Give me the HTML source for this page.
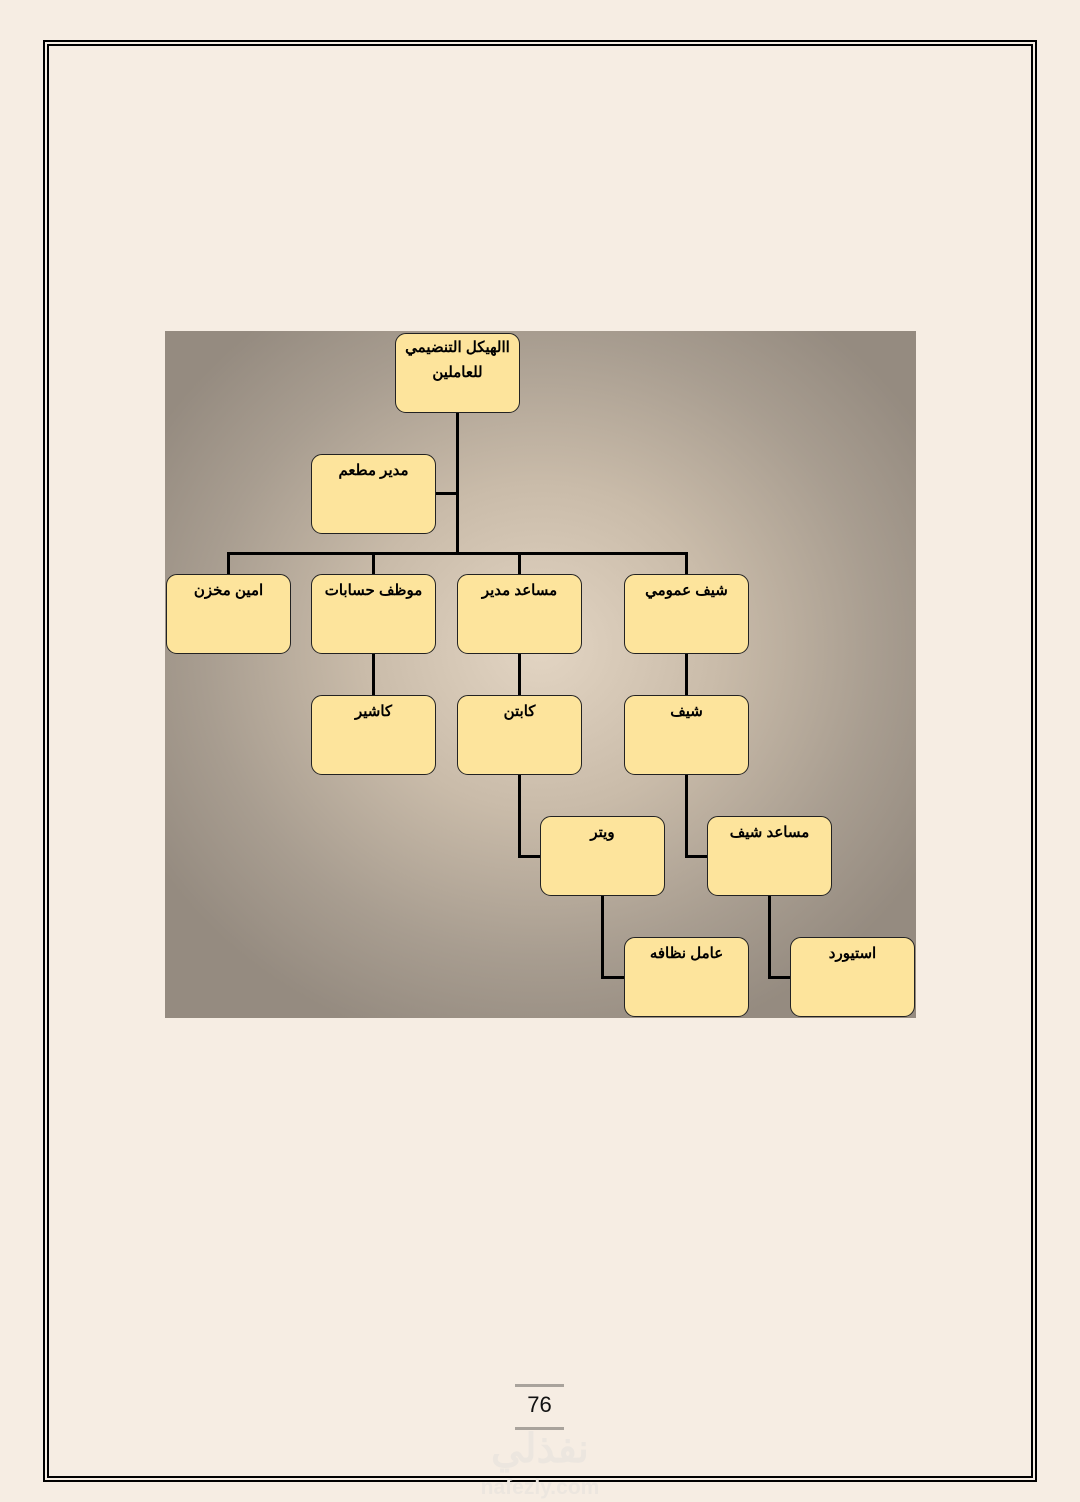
<!DOCTYPE html>
<html><head><meta charset="utf-8"><style>
body{margin:0;width:1080px;height:1502px;background:#f6ede3;position:relative;overflow:hidden;font-family:"Liberation Sans","Noto Sans CJK SC",sans-serif}
.b1{position:absolute;left:43px;top:40px;width:994px;height:1442px;border:2px solid #000;box-sizing:border-box}
.b2{position:absolute;left:47px;top:44px;width:986px;height:1434px;border:2px solid #000;box-sizing:border-box}
.dg{position:absolute;left:165px;top:331px;width:751px;height:687px;background:radial-gradient(ellipse 60% 60% at 50% 46%,#e3d5c3 0%,#c9bba9 40%,#a89d90 75%,#958b80 100%)}
.n{position:absolute;width:125px;height:80px;box-sizing:border-box;background:#fde49c;border:1.5px solid #222;border-radius:11px;text-align:center;font-weight:bold;font-size:15px;padding-top:3px;direction:rtl;line-height:25px}
.l{position:absolute;background:#000}
.pg{position:absolute;left:515px;width:49px;height:3px;background:#a9a39c}
</style></head><body>
<div class="b1"></div><div class="b2"></div>
<div class="dg"></div>
<div class="l" style="left:456px;top:412px;width:3px;height:143px"></div>
<div class="l" style="left:436px;top:492px;width:21px;height:3px"></div>
<div class="l" style="left:227px;top:552px;width:461px;height:3px"></div>
<div class="l" style="left:227px;top:552px;width:3px;height:22px"></div>
<div class="l" style="left:372px;top:552px;width:3px;height:22px"></div>
<div class="l" style="left:518px;top:552px;width:3px;height:22px"></div>
<div class="l" style="left:685px;top:552px;width:3px;height:22px"></div>
<div class="l" style="left:372px;top:654px;width:3px;height:41px"></div>
<div class="l" style="left:518px;top:654px;width:3px;height:41px"></div>
<div class="l" style="left:685px;top:654px;width:3px;height:41px"></div>
<div class="l" style="left:518px;top:775px;width:3px;height:83px"></div>
<div class="l" style="left:518px;top:855px;width:23px;height:3px"></div>
<div class="l" style="left:685px;top:775px;width:3px;height:83px"></div>
<div class="l" style="left:685px;top:855px;width:23px;height:3px"></div>
<div class="l" style="left:601px;top:896px;width:3px;height:83px"></div>
<div class="l" style="left:601px;top:976px;width:23px;height:3px"></div>
<div class="l" style="left:768px;top:896px;width:3px;height:83px"></div>
<div class="l" style="left:768px;top:976px;width:23px;height:3px"></div>
<div class="n" style="left:395px;top:333px;padding-top:1px">االهيكل التنضيمي<br>للعاملين</div>
<div class="n" style="left:311px;top:454px">مدير مطعم</div>
<div class="n" style="left:166px;top:574px">امين مخزن</div>
<div class="n" style="left:311px;top:574px">موظف حسابات</div>
<div class="n" style="left:457px;top:574px">مساعد مدير</div>
<div class="n" style="left:624px;top:574px">شيف عمومي</div>
<div class="n" style="left:311px;top:695px">كاشير</div>
<div class="n" style="left:457px;top:695px">كابتن</div>
<div class="n" style="left:624px;top:695px">شيف</div>
<div class="n" style="left:540px;top:816px">ويتر</div>
<div class="n" style="left:707px;top:816px">مساعد شيف</div>
<div class="n" style="left:624px;top:937px">عامل نظافه</div>
<div class="n" style="left:790px;top:937px">استيورد</div>
<div class="pg" style="top:1384px"></div>
<div style="position:absolute;left:515px;top:1392px;width:49px;text-align:center;font-size:22px;color:#111">76</div>
<div class="pg" style="top:1427px"></div>
<div style="position:absolute;left:460px;top:1426px;width:160px;text-align:center;font-size:40px;font-weight:bold;color:#ece6df;direction:rtl">نفذلي</div>
<div style="position:absolute;left:460px;top:1476px;width:160px;text-align:center;font-size:21px;font-weight:bold;color:#ece6df">nafezly.com</div>
</body></html>
